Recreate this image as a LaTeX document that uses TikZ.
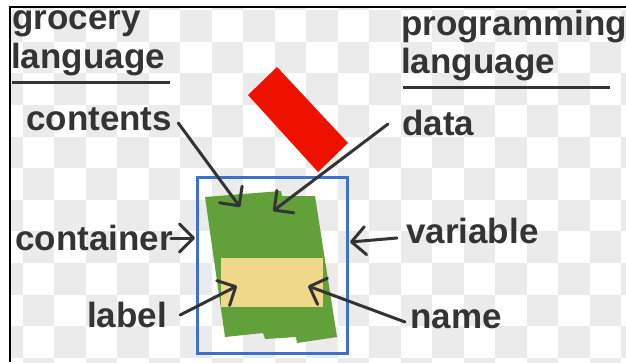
\documentclass[tikz,border=0pt]{standalone}
\usepackage{fontspec}
\setmainfont{Liberation Sans}
\usetikzlibrary{arrows.meta,calc}
\definecolor{inkgray}{HTML}{343434}
\definecolor{checkgray}{HTML}{EBEBEB}
\definecolor{boxblue}{HTML}{3E6FD2}
\definecolor{cangreen}{HTML}{62A03A}
\definecolor{tagyellow}{HTML}{F0D88A}
\definecolor{lidred}{HTML}{EE1100}

\begin{document}
\begin{tikzpicture}[x=1pt, y=-1pt,
  word/.style={font=\fontsize{35}{40}\selectfont\bfseries, text=inkgray,
               inner sep=0pt, anchor=base west},
  rule/.style={draw=inkgray, line width=3pt},
  pointer/.style={draw=inkgray, line width=3pt, line cap=round,
                  -{Straight Barb[length=14pt,width=28pt,round]}}
]
\useasboundingbox (0,0) rectangle (626,362);
\fill[white] (0,0) rectangle (626,362);
\begin{scope}
  \clip (10,7) rectangle (626,362);
  \foreach \i in {-1,...,19} {
    \foreach \j in {-1,...,11} {
      \pgfmathtruncatemacro\odd{mod(\i+\j+2,2)}
      \ifnum\odd=1
        \fill[checkgray] (22.5+31.5*\i,10.2+31.6*\j) rectangle ++(31.5,31.6);
      \fi
    }
  }
\end{scope}
\draw[black, line width=1.5pt] (10,362) -- (10,7) -- (626,7);

% the grocery pictures
\fill[lidred] (248,95) -- (277,67) -- (348,143) -- (318,172) -- cycle;
\draw[boxblue, line width=3pt] (197,177) rectangle (347,353);
\fill[cangreen] (205,197) -- (281,191) -- (282,196) -- (315,196) -- (337,337)
  -- (297,343) -- (296,337) -- (265,339) -- (263,333) -- (225,337) -- cycle;
\fill[tagyellow] (221,258) rectangle (323,307);

\coordinate (contentsTip) at (240,207);
\coordinate (dataTip) at (273,211);
\coordinate (containerTip) at (195,238);
\coordinate (variableTip) at (350,242);
\coordinate (labelTip) at (237,286);
\coordinate (nameTip) at (308,286);

\node[word] (grocery) at (12,29) {grocery};
\node[word] (grocerylang) at (11,68) {language};
\draw[rule] (12,82) -- (170,82);
\node[word] (programming) at (401,35) {programming};
\node[word] (proglang) at (401,73) {language};
\draw[rule] (403,87) -- (610,87);

\node[word] (contents) at (26,130) {contents};
\node[word] (container) at (15,250) {container};
\node[word] (label) at (87,327) {label};
\node[word] (data) at (402,135) {data};
\node[word] (variable) at (406,243) {variable};
\node[word] (name) at (410,328) {name};

\draw[pointer] ($(contents.base east)+(6,-7)$) -- (contentsTip);
\draw[pointer] ($(container.base east)+(-2,-12)$) -- (containerTip);
\draw[pointer] ($(label.base east)+(13,-12)$) -- (labelTip);
\draw[pointer] ($(data.base west)+(-14,-11)$) -- (dataTip);
\draw[pointer] ($(variable.base west)+(-9,-5)$) -- (variableTip);
\draw[pointer] ($(name.base west)+(-5,-6)$) -- (nameTip);
\end{tikzpicture}
\end{document}
